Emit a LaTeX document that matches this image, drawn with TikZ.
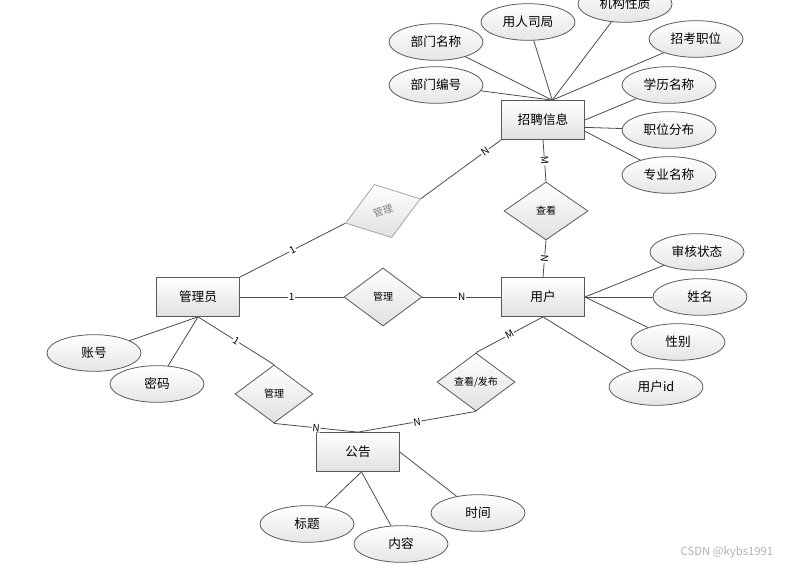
\documentclass[tikz,border=0pt]{standalone}
\usepackage{fontspec}
\setmainfont{Noto Sans CJK SC}
\usetikzlibrary{shapes.geometric}

\begin{document}
\begin{tikzpicture}[x=0.75pt, y=-0.75pt, font=\fontsize{9.5}{11}\selectfont,
    entity/.style={rectangle, draw=black!65, line width=0.8pt, top color=white, bottom color=black!12, minimum width=62pt, minimum height=29pt, inner sep=0pt},
    attr/.style={ellipse, draw=black!65, line width=0.6pt, top color=white, bottom color=black!10, minimum width=70.5pt, minimum height=27.5pt, inner sep=0pt},
    rel/.style={diamond, draw=black!65, line width=0.6pt, top color=white, bottom color=black!12, minimum width=58.5pt, minimum height=43.5pt, inner sep=0pt, font=\fontsize{7.5}{9}\selectfont},
    conn/.style={draw=black!70, line width=0.6pt},
    card/.style={fill=white, inner sep=0.6pt, sloped, font=\fontsize{7.5}{9}\selectfont}]
    \clip (0,0) rectangle (797,567);

    \node[entity] (zp) at (543,120) {招聘信息};
    \node[entity] (gly) at (198,297) {管理员};
    \node[entity] (yh) at (543,297) {用户};
    \node[entity] (gg) at (358,452) {公告};

    \node[attr] (bmmc) at (436,42) {部门名称};
    \node[attr] (yrsj) at (528,22) {用人司局};
    \node[attr] (jgxz) at (625,4) {机构性质};
    \node[attr] (zkzw) at (696,39) {招考职位};
    \node[attr] (bmbh) at (436,85) {部门编号};
    \node[attr] (xlmc) at (669,85) {学历名称};
    \node[attr] (zwfb) at (669,130) {职位分布};
    \node[attr] (zymc) at (669,175) {专业名称};

    \node[attr] (shzt) at (697,252) {审核状态};
    \node[attr] (xm) at (700,297) {姓名};
    \node[attr] (xb) at (678,342) {性别};
    \node[attr] (yhid) at (656,387) {用户id};

    \node[attr] (zh) at (94,353) {账号};
    \node[attr] (mm) at (157,384) {密码};

    \node[attr] (bt) at (307,524) {标题};
    \node[attr] (nr) at (401,544) {内容};
    \node[attr] (sj) at (478,513) {时间};

    \node[rel, draw=black!35, text=black!50, minimum width=59pt, minimum height=42pt, rotate=18] (gl1) at (383,211) {管理};
    \node[rel] (gl2) at (383,297) {管理};
    \node[rel, minimum width=63pt] (ck) at (546,211) {查看};
    \node[rel] (gl3) at (274,394) {管理};
    \node[rel] (ckfb) at (476,382) {查看/发布};

    \draw[conn] (zp.65) -- (bmmc);
    \draw[conn] (zp.65) -- (yrsj);
    \draw[conn] (zp.65) -- (jgxz);
    \draw[conn] (zp.65) -- (zkzw);
    \draw[conn] (zp.65) -- (bmbh);
    \draw[conn] (zp.0) -- (xlmc);
    \draw[conn] (zp.-10) -- (zwfb);
    \draw[conn] (zp.-15) -- (zymc);

    \draw[conn] (yh.east) -- (shzt);
    \draw[conn] (yh.east) -- (xm);
    \draw[conn] (yh.east) -- (xb);
    \draw[conn] (yh.south) -- (yhid);

    \draw[conn] (gly.south) -- (zh);
    \draw[conn] (gly.south) -- (mm);

    \draw[conn] (gg.-80) -- (bt);
    \draw[conn] (gg.-80) -- (nr);
    \draw[conn] (gg.east) -- (sj);

    \draw[conn] (zp.south west) -- node[card, pos=0.2] {N} (gl1.east);
    \draw[conn] (gl1.west) -- node[card] {1} (gly.north east);
    \draw[conn] (gly.east) -- node[card] {1} (gl2.west);
    \draw[conn] (gl2.east) -- node[card] {N} (yh.west);
    \draw[conn] (zp.south) -- node[card] {M} (ck.north);
    \draw[conn] (ck.south) -- node[card] {N} (yh.north);
    \draw[conn] (gly.south) -- node[card, font=\fontsize{7.5}{9}\itshape] {1} (gl3.north);
    \draw[conn] (gl3.south) -- node[card] {N} (gg.north);
    \draw[conn] (yh.south) -- node[card] {M} (ckfb.north);
    \draw[conn] (ckfb.south) -- node[card] {N} (gg.north);

    \node[text=black!30, font=\fontsize{8.5}{10}\selectfont] (wm) at (727,552) {CSDN @kybs1991};
\end{tikzpicture}
\end{document}
